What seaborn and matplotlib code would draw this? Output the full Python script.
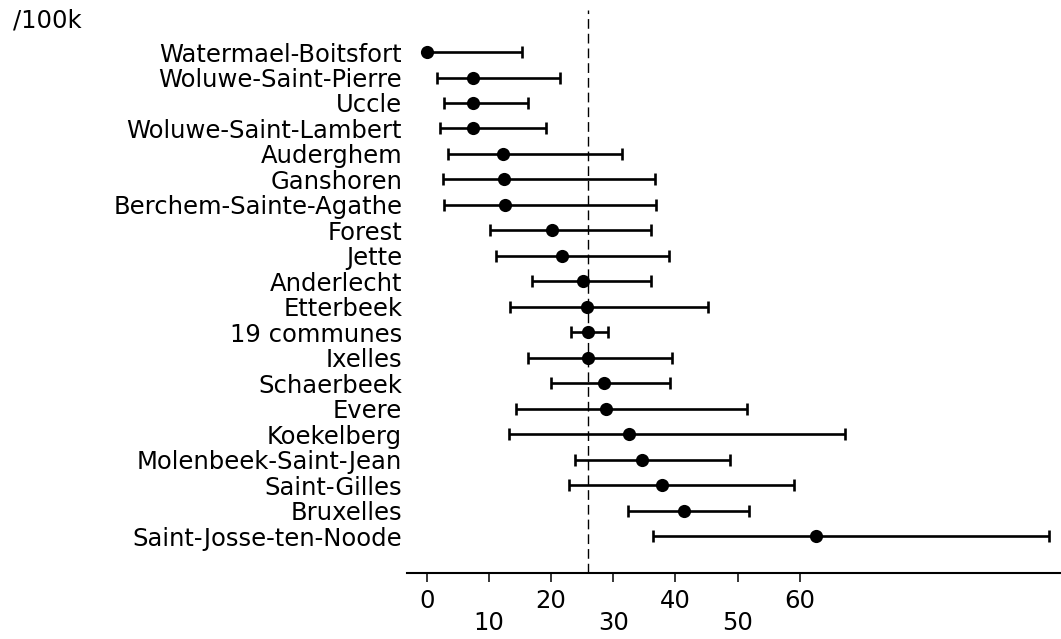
import numpy as np
import pandas as pd
import matplotlib
matplotlib.use("Agg")
import matplotlib.pyplot as plt
import seaborn as sns

communes = ["Watermael-Boitsfort", "Woluwe-Saint-Pierre", "Uccle", "Woluwe-Saint-Lambert",
            "Auderghem", "Ganshoren", "Berchem-Sainte-Agathe", "Forest", "Jette", "Anderlecht",
            "Etterbeek", "19 communes", "Ixelles", "Schaerbeek", "Evere", "Koekelberg",
            "Molenbeek-Saint-Jean", "Saint-Gilles", "Bruxelles", "Saint-Josse-ten-Noode"]
rate = [0.1, 7.4, 7.5, 7.5, 12.3, 12.5, 12.6, 20.2, 21.8, 25.1,
        25.8, 25.9, 26.0, 28.5, 28.8, 32.6, 34.6, 37.9, 41.3, 62.6]
low = [0.0, 1.6, 2.8, 2.1, 3.5, 2.6, 2.7, 10.1, 11.1, 16.9,
       13.4, 23.2, 16.3, 20.0, 14.4, 13.2, 23.9, 22.9, 32.3, 36.4]
high = [15.3, 21.5, 16.3, 19.2, 31.4, 36.7, 36.8, 36.0, 39.0, 36.0,
        45.2, 29.2, 39.5, 39.2, 51.5, 67.3, 48.8, 59.1, 51.9, 100.0]
region_avg = 25.9
xticks = [0, 10, 20, 30, 40, 50, 60]
unit_label = "/100k"

df = pd.DataFrame({"commune": communes, "rate": rate, "low": low, "high": high})
df["pos"] = np.arange(len(df))

sns.set_theme(style="white")
plt.rcParams["font.family"] = ["DejaVu Sans"]

FS = 17.5
fig = plt.figure(figsize=(10.61, 6.39), dpi=100)
ax = fig.add_axes([407 / 1061, 1 - 573 / 639, 1 - 407 / 1061, (573 - 10) / 639])

ax.axvline(region_avg, color="black", lw=1.0, dashes=(7, 3.6), zorder=1)

ax.errorbar(df["rate"], df["pos"],
            xerr=[df["rate"] - df["low"], df["high"] - df["rate"]],
            fmt="none", ecolor="black", elinewidth=1.9, capsize=4.0, capthick=1.9, zorder=2)
sns.scatterplot(data=df, x="rate", y="pos", color="black", s=90, marker="o",
                edgecolor="black", linewidth=0, ax=ax, zorder=3, legend=False)

ax.set_xlim(-3.17, 102.0)
ax.set_ylim(20.45, -1.65)
ax.set_yticks(df["pos"])
ax.set_yticklabels(df["commune"], fontsize=FS, color="black")
ax.tick_params(axis="y", length=0, pad=3.5)

ax.set_xticks(xticks)
ax.set_xticklabels([str(t) for t in xticks], fontsize=FS, color="black")
ax.tick_params(axis="x", direction="out", length=6.3, width=1.1, color="black", bottom=True)
for i, tk in enumerate(ax.xaxis.get_major_ticks()):
    tk.set_pad(5 if i % 2 == 0 else 21)

ax.set_xlabel("")
ax.set_ylabel("")
for s in ["top", "right", "left"]:
    ax.spines[s].set_visible(False)
ax.spines["bottom"].set_color("black")
ax.spines["bottom"].set_linewidth(1.5)

fig.text(13 / 1061, 1 - 8 / 639, unit_label, fontsize=FS, ha="left", va="top", color="black")

fig.savefig("out.png", dpi=100)
